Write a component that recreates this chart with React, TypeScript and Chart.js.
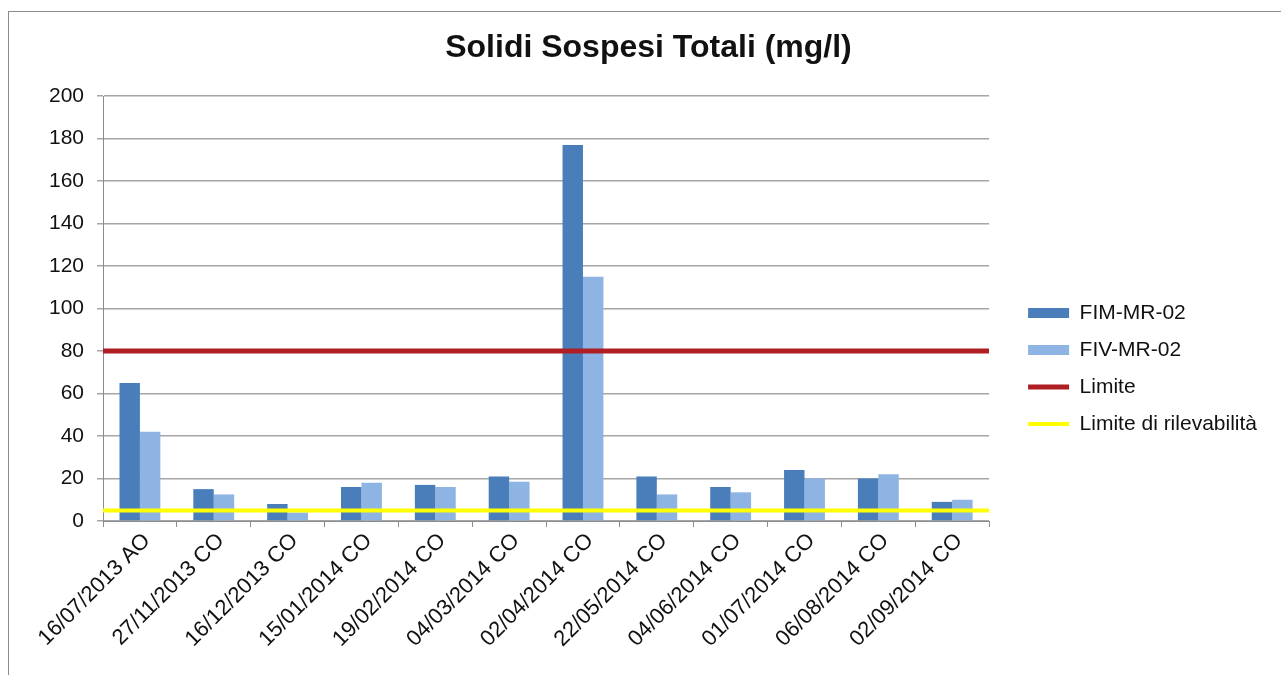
import React, { useEffect, useRef } from "react";
import { Chart, registerables } from "chart.js";

Chart.register(...registerables);

const categories = [
  "16/07/2013 AO",
  "27/11/2013 CO",
  "16/12/2013 CO",
  "15/01/2014 CO",
  "19/02/2014 CO",
  "04/03/2014 CO",
  "02/04/2014 CO",
  "22/05/2014 CO",
  "04/06/2014 CO",
  "01/07/2014 CO",
  "06/08/2014 CO",
  "02/09/2014 CO",
];
const fimValues = [65, 15, 8, 16, 17, 21, 177, 21, 16, 24, 20, 9];
const fivValues = [42, 12.5, 4, 18, 16, 18.5, 115, 12.5, 13.5, 20, 22, 10];
const limiteValue = 80;
const rilevabilitaValue = 5;
const yMin = 0;
const yMax = 200;
const yStep = 20;

const FONT = "'Liberation Sans', Arial, sans-serif";

// Places the legend block at a fixed gap from the plot area and nudges the title.
const blockShift = {
  id: "blockShift",
  afterLayout(chart: any) {
    const lg = chart.legend;
    if (lg) {
      const d = chart.chartArea.right + 23 - lg.left;
      lg.left += d;
      lg.right += d;
    }
    const tb = chart.titleBlock;
    if (tb) {
      tb.left += 22;
      tb.right += 22;
    }
  },
};

export default function App() {
  const canvasRef = useRef<HTMLCanvasElement | null>(null);

  useEffect(() => {
    if (!canvasRef.current) return;
    const chart = new Chart(canvasRef.current, {
      type: "bar",
      data: {
        labels: categories,
        datasets: [
          {
            type: "line",
            label: "Limite",
            data: [
              { x: 0, y: limiteValue },
              { x: 1, y: limiteValue },
            ],
            xAxisID: "xLine",
            yAxisID: "y",
            borderColor: "#AE1E23",
            backgroundColor: "#AE1E23",
            borderWidth: 5,
            pointRadius: 0,
            order: 1,
          },
          {
            type: "line",
            label: "Limite di rilevabilità",
            data: [
              { x: 0, y: rilevabilitaValue },
              { x: 1, y: rilevabilitaValue },
            ],
            xAxisID: "xLine",
            yAxisID: "y",
            borderColor: "#FFFF00",
            backgroundColor: "#FFFF00",
            borderWidth: 4,
            pointRadius: 0,
            order: 0,
          },
          {
            type: "bar",
            label: "FIM-MR-02",
            data: fimValues,
            xAxisID: "x",
            yAxisID: "y",
            backgroundColor: "#4A7EBB",
            borderWidth: 0,
            categoryPercentage: 1.107,
            barPercentage: 1,
            order: 2,
          },
          {
            type: "bar",
            label: "FIV-MR-02",
            data: fivValues,
            xAxisID: "x",
            yAxisID: "y",
            backgroundColor: "#8DB4E2",
            borderWidth: 0,
            categoryPercentage: 1.107,
            barPercentage: 1,
            order: 2,
          },
        ] as any,
      },
      options: {
        animation: false,
        responsive: true,
        maintainAspectRatio: false,
        layout: { padding: { left: 0, right: 37, top: 0, bottom: 0 } },
        scales: {
          xLine: {
            type: "linear",
            position: "bottom",
            min: 0,
            max: 1,
            offset: false,
            grid: { offset: false },
            display: false,
          },
          x: {
            type: "category",
            position: "bottom",
            offset: true,
            grid: {
              offset: true,
              drawOnChartArea: false,
              drawTicks: true,
              tickLength: 6,
              color: "#8C8C8C",
              lineWidth: 1,
            },
            border: { display: true, color: "#8C8C8C", width: 1 },
            ticks: {
              autoSkip: false,
              minRotation: 45,
              maxRotation: 45,
              labelOffset: 7,
              color: "#111",
              padding: 1,
              font: { family: FONT, size: 22 },
            },
            afterFit: (s: any) => {
              s.height = 154;
            },
          },
          y: {
            type: "linear",
            position: "left",
            min: yMin,
            max: yMax,
            ticks: {
              stepSize: yStep,
              color: "#111",
              padding: 13,
              font: { family: FONT, size: 21 },
            },
            grid: {
              color: "#A6A6A6",
              lineWidth: 1.5,
              tickLength: 6,
              drawTicks: true,
            },
            border: { display: true, color: "#8C8C8C", width: 1 },
            afterFit: (s: any) => {
              s.width = 94;
            },
          },
        } as any,
        plugins: {
          title: {
            display: true,
            text: "Solidi Sospesi Totali (mg/l)",
            color: "#111",
            font: { family: FONT, size: 32, weight: "bold" },
            padding: { top: 17, bottom: 28.6 },
          },
          legend: {
            display: true,
            position: "right",
            align: "center",
            title: {
              display: true,
              text: " ",
              font: { family: FONT, size: 10 },
              padding: { top: 38, bottom: 0 },
            },
            labels: {
              usePointStyle: true,
              pointStyleWidth: 41,
              boxHeight: 10,
              padding: 16,
              color: "#111",
              font: { family: FONT, size: 21 },
              sort: (a: any, b: any) => {
                const ka = (a.pointStyle === "line" ? 10 : 0) + a.datasetIndex;
                const kb = (b.pointStyle === "line" ? 10 : 0) + b.datasetIndex;
                return ka - kb;
              },
              generateLabels: (c: any) => {
                const items = (Chart as any).defaults.plugins.legend.labels.generateLabels(c);
                return items.map((it: any) => {
                  const ds = c.data.datasets[it.datasetIndex];
                  if (ds.type === "line") {
                    it.pointStyle = "line";
                    it.lineWidth = ds.borderWidth;
                    it.strokeStyle = ds.borderColor;
                  } else {
                    it.pointStyle = "rect";
                    it.lineWidth = 0;
                  }
                  return it;
                });
              },
            },
          },
          tooltip: { enabled: false },
        },
      },
      plugins: [blockShift],
    });
    return () => chart.destroy();
  }, []);

  return (
    <div
      style={{
        position: "absolute",
        left: 8,
        top: 11,
        width: 1273,
        height: 664,
        boxSizing: "border-box",
        borderTop: "1px solid #8C8C8C",
        borderLeft: "1px solid #8C8C8C",
        background: "#fff",
      }}
    >
      <div style={{ position: "relative", width: 1272, height: 663 }}>
        <canvas ref={canvasRef} />
      </div>
    </div>
  );
}
